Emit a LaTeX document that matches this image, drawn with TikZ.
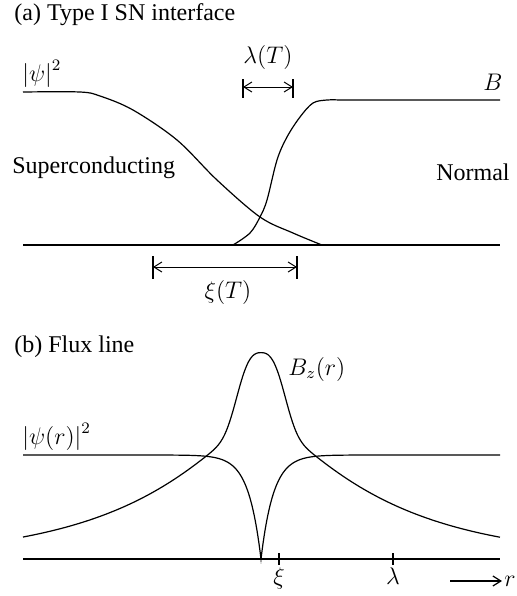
\documentclass[tikz,border=0pt]{standalone}
\usepackage{fontspec}
\setmainfont{Liberation Serif}
\usepackage{tikz}
\usetikzlibrary{arrows.meta,positioning,calc}

\begin{document}
\begin{tikzpicture}[
  x=0.5pt,y=-0.5pt,
  >={Straight Barb[length=4pt,width=5pt]},
  font=\fontsize{12}{14}\selectfont,
  curve/.style={line width=0.6pt},
  axis/.style={line width=0.6pt},
  dim/.style={<->, line width=0.5pt},
  bar/.style={line width=0.7pt},
  lbl/.style={inner sep=1pt}
]
\useasboundingbox (0,0) rectangle (516,596);

% (a) Type I SN interface
\node[lbl, anchor=west] (titleA) at (12,15) {(a) Type I SN interface};
\node[lbl, anchor=west] (psiA) at (20,74) {$\bigl|\psi\bigr|^2$};
\node[lbl] (bA) at (493,82) {$B$};
\node[lbl, anchor=west] (sc) at (10,168) {Superconducting};
\node[lbl, anchor=east] (nm) at (512,172) {Normal};

\coordinate (baseAL) at (23,245);
\coordinate (baseAR) at (500,245);
\draw[axis] (baseAL) -- (baseAR);

% order parameter and field across the interface
\draw[curve] plot[smooth, tension=0.55] coordinates {(23,92) (80,92) (100,96) (133,110) (177,140) (217,180) (260,217) (293,233) (322,245)};
\draw[curve] plot[smooth, tension=0.55] coordinates {(233,245) (250,233) (260,217) (267,200) (277,160) (287,137) (300,117) (313,103) (327,100) (340,100)} -- (500,100);

% penetration depth
\coordinate (lamL) at (243,87);
\coordinate (lamR) at (293,87);
\draw[bar] (lamL) ++(0,-8) -- ++(0,19);
\draw[bar] (lamR) ++(0,-8) -- ++(0,19);
\draw[dim] (lamL) -- (lamR);
\node[lbl] (lamT) at (268,57) {$\lambda(T)$};

% coherence length
\coordinate (xiL) at (153,267);
\coordinate (xiR) at (297,267);
\draw[bar] (xiL) ++(0,-11) -- ++(0,23);
\draw[bar] (xiR) ++(0,-11) -- ++(0,23);
\draw[dim] (xiL) -- (xiR);
\node[lbl] (xiT) at (228,292) {$\xi(T)$};

% (b) Flux line
\node[lbl, anchor=west] (titleB) at (12,347) {(b) Flux line};
\node[lbl, anchor=west] (bz) at (286,369) {$B_z(r)$};
\node[lbl, anchor=west] (psiB) at (20,437) {$\bigl|\psi(r)\bigr|^2$};

\coordinate (baseBL) at (23,559);
\coordinate (baseBR) at (500,559);
\draw[axis] (baseBL) -- (baseBR);

\draw[curve] plot[domain=23:500, samples=240, smooth] (\x, {559 - (177*exp(-sqrt(((\x-261)/10)^2+9)/11.5) + 70*exp(-(abs((\x-261)/10)/2.75)^3))});
\draw[curve] plot[domain=23:500, samples=478] (\x, {455 + 104*exp(-abs(\x-261)/12.5)});

% ticks on the r axis
\coordinate (tXi) at (279,559);
\coordinate (tLam) at (393,559);
\draw[bar] (tXi) ++(0,-6) -- ++(0,12);
\draw[bar] (tLam) ++(0,-6) -- ++(0,12);
\node[lbl, below=3pt of tXi] (xiB) {$\xi$};
\node[lbl, below=3pt of tLam] (lamB) {$\lambda$};

\coordinate (rS) at (450,581);
\node[lbl, anchor=west] (rB) at (502,581) {$r$};
\draw[->, line width=0.6pt] (rS) -- (rB.west);
\end{tikzpicture}
\end{document}
